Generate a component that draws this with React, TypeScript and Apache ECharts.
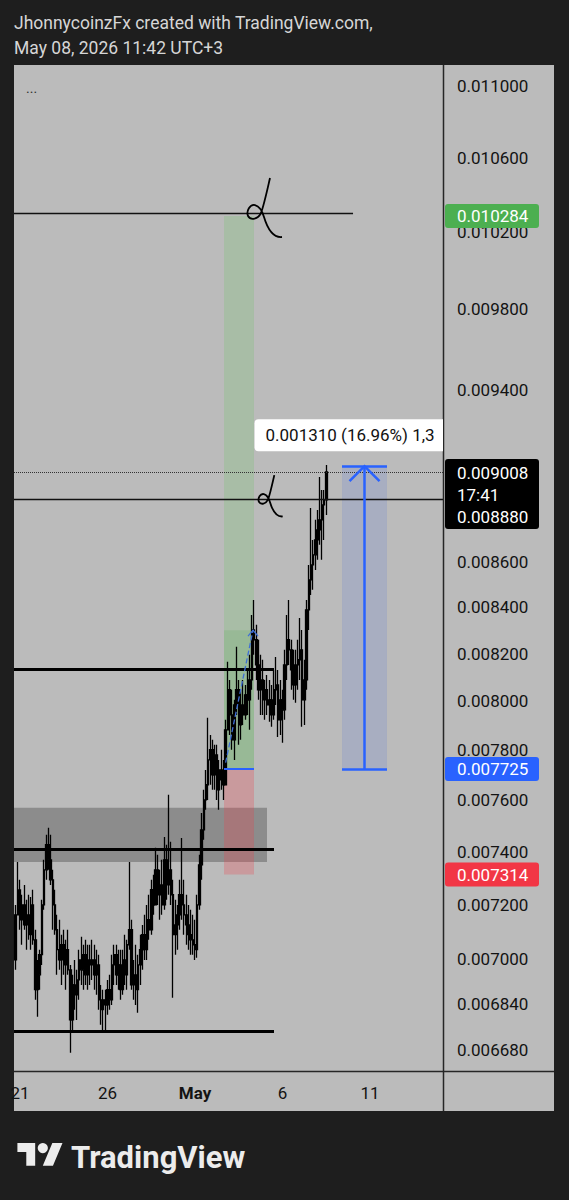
import React, { useEffect, useRef } from "react";
import * as echarts from "echarts";

// ---------- texts ----------
const headerLines = ["JhonnycoinzFx created with TradingView.com,", "May 08, 2026 11:42 UTC+3"];
const brandName = "TradingView";

// ---------- axes ----------
const priceTicks = [0.011, 0.0106, 0.0102, 0.0098, 0.0094, 0.0086, 0.0084, 0.0082, 0.008, 0.0078, 0.0076, 0.0074, 0.0072, 0.007, 0.00684, 0.00668];
const dayTicks = [21, 26, 31, 36, 41];
const dayTickLabels = ["21", "26", "May", "6", "11"];
const boldDayLabels = ["May"];
const axisMinPrice = 0.006607;
const axisMaxPrice = 0.01112;
const axisMinDay = 20.657;
const axisMaxDay = 45.171;

// ---------- candles (3h bars, day numbers counted from Apr 1 => May 1 = 31) ----------
const firstCandleDay = 20.75;
const candleStepDays = 0.125;
const firstOpen = 0.006998;
const closes = [
  0.007163, 0.007256, 0.007145, 0.0072, 0.007126, 0.007163, 0.00709, 0.0072, 0.007071, 0.006891,
  0.006944, 0.007017, 0.0072, 0.007332, 0.007428, 0.00737, 0.007294, 0.0072, 0.007108, 0.007035,
  0.006998, 0.007053, 0.00698, 0.007035, 0.006962, 0.006784, 0.006908, 0.006873, 0.006926, 0.006998,
  0.006962, 0.007017, 0.006944, 0.006998, 0.00698, 0.006998, 0.006944, 0.00698, 0.006855, 0.00682,
  0.006855, 0.006837, 0.006891, 0.006855, 0.00698, 0.007017, 0.006944, 0.00698, 0.006891, 0.006998,
  0.006944, 0.007053, 0.007108, 0.006908, 0.006944, 0.006891, 0.00698, 0.007035, 0.00709, 0.007035,
  0.007145, 0.007108, 0.007257, 0.0072, 0.007332, 0.007238, 0.007275, 0.0072, 0.00737, 0.007275,
  0.007332, 0.007238, 0.00709, 0.007126, 0.007163, 0.007238, 0.0072, 0.007163, 0.007126, 0.00709,
  0.007071, 0.007053, 0.007035, 0.0072, 0.007351, 0.007485, 0.007602, 0.007662, 0.007761, 0.007802,
  0.007701, 0.007781, 0.007642, 0.007721, 0.007681, 0.007662, 0.007883, 0.008048, 0.007944, 0.007842,
  0.007985, 0.008048, 0.007903, 0.007985, 0.007944, 0.008027, 0.008006, 0.008089, 0.008301, 0.008259,
  0.008152, 0.008048, 0.008089, 0.008006, 0.008048, 0.007985, 0.008006, 0.007944, 0.008048, 0.008068,
  0.007924, 0.008006, 0.007965, 0.008152, 0.008259, 0.008216, 0.008131, 0.008068, 0.008152, 0.008174,
  0.008216, 0.008006, 0.008089, 0.008388, 0.008519, 0.008585, 0.00863, 0.008697, 0.008742, 0.008788,
  0.008856, 0.008879, 0.009008,
];
const highs = [
  0.0072, 0.007362, 0.007294, 0.007238, 0.007275, 0.007219, 0.007238, 0.00723, 0.007257, 0.007108,
  0.006998, 0.007035, 0.007219, 0.00737, 0.007466, 0.007493, 0.007466, 0.007332, 0.007257, 0.007163,
  0.007145, 0.00709, 0.007108, 0.007071, 0.007108, 0.00698, 0.006944, 0.006998, 0.006962, 0.007035,
  0.007082, 0.007053, 0.007071, 0.007053, 0.007053, 0.007071, 0.007053, 0.007035, 0.007017, 0.006908,
  0.006891, 0.006891, 0.006926, 0.006944, 0.007017, 0.007053, 0.007053, 0.007035, 0.007035, 0.007035,
  0.00709, 0.007071, 0.007362, 0.007145, 0.006998, 0.007053, 0.007017, 0.00709, 0.007126, 0.007163,
  0.0072, 0.007238, 0.007294, 0.007313, 0.007416, 0.007389, 0.007332, 0.00737, 0.007458, 0.007428,
  0.007622, 0.007439, 0.007294, 0.007219, 0.0072, 0.007294, 0.007454, 0.007294, 0.007238, 0.0072,
  0.007182, 0.007163, 0.007145, 0.007238, 0.007389, 0.007551, 0.007642, 0.007721, 0.007932, 0.007862,
  0.007842, 0.007822, 0.007822, 0.007761, 0.007802, 0.007761, 0.007924, 0.008165, 0.008089, 0.008048,
  0.008006, 0.008229, 0.008089, 0.008048, 0.008089, 0.008068, 0.008131, 0.008195, 0.008366, 0.008431,
  0.008323, 0.008259, 0.008195, 0.008174, 0.008089, 0.00811, 0.008089, 0.008068, 0.008131, 0.008186,
  0.008131, 0.008089, 0.008048, 0.008216, 0.008366, 0.008431, 0.008259, 0.008216, 0.008216, 0.008259,
  0.008353, 0.008301, 0.008174, 0.008431, 0.008585, 0.008842, 0.008697, 0.008788, 0.008833, 0.008985,
  0.008925, 0.008925, 0.009041,
];
const lows = [
  0.006962, 0.007163, 0.007108, 0.007053, 0.007108, 0.007035, 0.007071, 0.007035, 0.007053, 0.006855,
  0.006795, 0.006891, 0.00698, 0.007182, 0.007294, 0.007332, 0.007275, 0.007108, 0.00709, 0.006944,
  0.006962, 0.006908, 0.006944, 0.006891, 0.006944, 0.00667, 0.006749, 0.00682, 0.006784, 0.006855,
  0.006908, 0.006891, 0.006908, 0.006891, 0.006908, 0.006926, 0.006891, 0.006873, 0.00682, 0.006767,
  0.006749, 0.006739, 0.006802, 0.00682, 0.006837, 0.006908, 0.006908, 0.006891, 0.006855, 0.006873,
  0.006908, 0.006891, 0.007035, 0.006891, 0.006855, 0.006837, 0.006809, 0.006908, 0.006962, 0.006998,
  0.006998, 0.007071, 0.00709, 0.007163, 0.007219, 0.0072, 0.007145, 0.007163, 0.007182, 0.007219,
  0.007238, 0.0072, 0.006862, 0.007017, 0.007035, 0.007108, 0.007145, 0.00709, 0.007053, 0.007035,
  0.007017, 0.007017, 0.006998, 0.007006, 0.007182, 0.007294, 0.007447, 0.007563, 0.007602, 0.007662,
  0.007642, 0.007642, 0.007602, 0.007563, 0.007642, 0.007602, 0.007713, 0.007924, 0.007862, 0.007802,
  0.007761, 0.007944, 0.007822, 0.007842, 0.007903, 0.007924, 0.007944, 0.007883, 0.008048, 0.008195,
  0.008089, 0.008006, 0.007944, 0.007944, 0.007924, 0.007944, 0.007916, 0.007895, 0.007924, 0.007985,
  0.007854, 0.007862, 0.00783, 0.007924, 0.008089, 0.008152, 0.008048, 0.008006, 0.007994, 0.008048,
  0.008089, 0.007895, 0.007903, 0.008048, 0.008301, 0.008453, 0.008475, 0.008563, 0.008608, 0.008675,
  0.008608, 0.008697, 0.00881,
];

// ---------- drawings ----------
const lastPrice = 0.009008;
const countdownText = "17:41";
const entryPrice = 0.007725;
const targetPrice = 0.010284;
const stopPrice = 0.007314;
const reachedPrice = 0.0083;
const lineLevel = 0.00888;
const topLineLevel = 0.0103;
const thickLevels = [0.008135, 0.00741, 0.006745];
const zoneTopPrice = 0.007571;
const zoneBottomPrice = 0.007362;
const zoneEndDay = 35.114;
const thickEndDay = 35.514;
const topLineEndDay = 40.03;
const positionStartDay = 32.657;
const positionEndDay = 34.371;
const dashStart = [32.75, 0.00775];
const dashEnd = [34.314, 0.0083];
const rangeFrom = 0.007725;
const rangeTo = 0.009035;
const rangeStartDay = 39.4;
const rangeEndDay = 41.971;
const rangeMidDay = 40.686;
const rangeLabel = "0.001310 (16.96%) 1,3";
const scribbleAnchors = [
  { day: 34.771, price: 0.0103, scale: 1 },
  { day: 35.171, price: 0.00888, scale: 0.7 },
];

// ---------- shapes ----------
const TV_LOGO_D = "M14 22H7V11H0V4h14v18zM28 22h-8l7.5-18h8L28 22z";
const SCRIBBLE_D = "M9,-35 C6,-22 3,-8 0,0 C-3,6 -10,8 -13,3 C-15,-2 -11,-9 -6,-8 C-2,-7 1,-3 3,4 C6,14 11,25 21,24";
echarts.graphic.registerShape("tvlogo", echarts.graphic.extendPath(TV_LOGO_D, {}));
echarts.graphic.registerShape("scribble", echarts.graphic.extendPath(SCRIBBLE_D, {}));

const FONT = 'Roboto, "Noto Sans", sans-serif';
const BLUE = "#2962ff";

export default function App() {
  const ref = useRef<HTMLDivElement>(null);

  useEffect(() => {
    const el = ref.current;
    if (!el) return;
    const chart = echarts.init(el, null, { renderer: "svg" });
    const L = Math.log;

    const candleData = closes.map((c, i) => {
      const o = i === 0 ? firstOpen : closes[i - 1];
      const h = Math.max(highs[i], o, c);
      const l = Math.min(lows[i], o, c);
      return [firstCandleDay + i * candleStepDays, L(o), L(c), L(l), L(h)];
    });

    const seg = (d1: number, p1: number, d2: number, p2: number, lineStyle: any) => [
      { coord: [d1, L(p1)], lineStyle },
      { coord: [d2, L(p2)] },
    ];
    const area = (d1: number, p1: number, d2: number, p2: number, color: string) => [
      { coord: [d1, L(p1)], itemStyle: { color } },
      { coord: [d2, L(p2)] },
    ];

    const option: any = {
      animation: false,
      backgroundColor: "#1e1e1e",
      grid: { left: 14, top: 65, width: 429, height: 1006, containLabel: false, outerBoundsMode: "none" },
      xAxis: {
        type: "value",
        min: axisMinDay,
        max: axisMaxDay,
        axisLine: { show: false },
        axisTick: { show: false },
        splitLine: { show: false },
        axisLabel: {
          customValues: dayTicks,
          margin: 13,
          color: "#131313",
          fontSize: 17,
          fontFamily: FONT,
          formatter: (v: number) => {
            const k = dayTicks.indexOf(v);
            const s = k >= 0 ? dayTickLabels[k] : "";
            return boldDayLabels.includes(s) ? `{b|${s}}` : s;
          },
          rich: { b: { fontWeight: "bold", fontSize: 17, color: "#131313", fontFamily: FONT } },
        },
      },
      yAxis: {
        type: "value",
        position: "right",
        min: L(axisMinPrice),
        max: L(axisMaxPrice),
        axisLine: { show: false },
        axisTick: { show: false },
        splitLine: { show: false },
        axisLabel: {
          customValues: priceTicks.map(L),
          margin: 14,
          color: "#131313",
          fontSize: 17,
          fontFamily: FONT,
          formatter: (v: number) => Math.exp(v).toFixed(6),
        },
      },
      series: [
        {
          type: "candlestick",
          data: candleData,
          encode: { x: 0, y: [1, 2, 3, 4] },
          barWidth: 2,
          silent: true,
          itemStyle: { color: "#000", color0: "#000", borderColor: "#000", borderColor0: "#000", borderWidth: 1.3 },
          markArea: {
            silent: true,
            label: { show: false },
            data: [
              area(axisMinDay, zoneTopPrice, zoneEndDay, zoneBottomPrice, "rgba(0,0,0,0.25)"),
              area(positionStartDay, targetPrice, positionEndDay, entryPrice, "rgba(110,195,105,0.25)"),
              area(positionStartDay, reachedPrice, positionEndDay, entryPrice, "rgba(60,160,60,0.14)"),
              area(positionStartDay, entryPrice, positionEndDay, stopPrice, "rgba(242,54,69,0.25)"),
              area(rangeStartDay, rangeTo, rangeEndDay, rangeFrom, "rgba(60,100,230,0.15)"),
            ],
          },
          markLine: {
            silent: true,
            symbol: ["none", "none"],
            label: { show: false },
            data: [
              seg(axisMinDay, topLineLevel, topLineEndDay, topLineLevel, { color: "#111", width: 1.3, type: "solid" }),
              ...thickLevels.map((p) => seg(axisMinDay, p, thickEndDay, p, { color: "#000", width: 3, type: "solid" })),
              seg(axisMinDay, lineLevel, axisMaxDay, lineLevel, { color: "#111", width: 1.3, type: "solid" }),
              seg(axisMinDay, lastPrice, axisMaxDay, lastPrice, { color: "#333", width: 1, type: "dotted" }),
              seg(positionStartDay, entryPrice, positionEndDay, entryPrice, { color: BLUE, width: 2, type: "solid" }),
              seg(dashStart[0], dashStart[1], dashEnd[0], dashEnd[1], { color: "#3f6fd6", width: 1.3, type: "dashed" }),
              seg(rangeStartDay, rangeTo, rangeEndDay, rangeTo, { color: BLUE, width: 2.5, type: "solid" }),
              seg(rangeStartDay, rangeFrom, rangeEndDay, rangeFrom, { color: BLUE, width: 2.5, type: "solid" }),
              seg(rangeMidDay, rangeFrom, rangeMidDay, rangeTo, { color: BLUE, width: 2.5, type: "solid" }),
            ],
          },
        },
      ],
    };
    chart.setOption(option);

    const P = (d: number, p: number) => chart.convertToPixel({ gridIndex: 0 }, [d, L(p)]) as number[];
    const g: any[] = [];

    // panel background
    g.push({ type: "rect", z: -10, silent: true, shape: { x: 14, y: 65, width: 540, height: 1046 }, style: { fill: "#bbbbbb" } });
    // separators
    g.push({ type: "line", z: 50, silent: true, shape: { x1: 443.5, y1: 65, x2: 443.5, y2: 1111 }, style: { stroke: "#262626", lineWidth: 1.5 } });
    g.push({ type: "line", z: 50, silent: true, shape: { x1: 14, y1: 1071.5, x2: 554, y2: 1071.5 }, style: { stroke: "#262626", lineWidth: 1.5 } });

    // header
    headerLines.forEach((t, i) => {
      g.push({ type: "text", z: 50, x: 14, y: 23 + i * 25, style: { text: t, fill: "#d6d6d6", fontSize: 17.5, fontFamily: FONT, verticalAlign: "middle" } });
    });
    g.push({ type: "text", z: 50, x: 26, y: 88, style: { text: "...", fill: "#333", fontSize: 14, fontFamily: FONT, verticalAlign: "middle" } });

    // brand
    const ls = 1.27;
    const lx = 17.4;
    const ly = 1143 - 4 * ls;
    g.push({ type: "tvlogo", z: 50, x: lx, y: ly, scaleX: ls, scaleY: ls, style: { fill: "#ececec" } });
    g.push({ type: "circle", z: 50, shape: { cx: lx + 20 * ls, cy: ly + 8 * ls, r: 4 * ls }, style: { fill: "#ececec" } });
    g.push({ type: "text", z: 50, x: 71, y: 1157, style: { text: brandName, fill: "#ececec", fontSize: 31, fontWeight: "bold", fontFamily: FONT, verticalAlign: "middle" } });

    // scribbles
    scribbleAnchors.forEach((a) => {
      const [sx, sy] = P(a.day, a.price);
      g.push({ type: "scribble", z: 60, x: sx, y: sy, scaleX: a.scale, scaleY: a.scale, style: { stroke: "#000", fill: "none", lineWidth: 1.8 / a.scale } });
    });

    // range arrow head + label
    const [rx, ry] = P(rangeMidDay, rangeTo);
    g.push({ type: "polyline", z: 60, shape: { points: [[rx - 15, ry + 15], [rx, ry], [rx + 15, ry + 15]] }, style: { stroke: BLUE, lineWidth: 2.5, fill: "none" } });
    const boxLeft = rx - 110;
    g.push({ type: "rect", z: 60, shape: { x: boxLeft, y: ry - 47, width: 443 - boxLeft, height: 32, r: [4, 0, 0, 4] }, style: { fill: "#ffffff" } });
    g.push({ type: "text", z: 61, x: boxLeft + 11, y: ry - 31, style: { text: rangeLabel, fill: "#111", fontSize: 17, fontFamily: FONT, verticalAlign: "middle" } });

    // dashed line arrow head
    const [dx, dy] = P(dashEnd[0], dashEnd[1]);
    g.push({ type: "polyline", z: 60, shape: { points: [[dx - 5, dy + 6], [dx, dy], [dx + 5, dy + 6]] }, style: { stroke: "#3f6fd6", lineWidth: 1.3, fill: "none" } });

    // axis tags
    const tag = (price: number, fill: string) => {
      const y = P(axisMinDay, price)[1];
      g.push({ type: "rect", z: 100, shape: { x: 445, y: y - 12, width: 94, height: 24, r: 3 }, style: { fill } });
      g.push({ type: "text", z: 101, x: 457, y, style: { text: price.toFixed(6), fill: "#fff", fontSize: 17, fontFamily: FONT, verticalAlign: "middle" } });
    };
    tag(targetPrice, "#4caf50");
    tag(entryPrice, BLUE);
    tag(stopPrice, "#f23645");

    const yLast = P(axisMinDay, lastPrice)[1];
    g.push({ type: "rect", z: 100, shape: { x: 445, y: yLast - 13, width: 94, height: 70, r: 3 }, style: { fill: "#000" } });
    [lastPrice.toFixed(6), countdownText, lineLevel.toFixed(6)].forEach((t, i) => {
      g.push({ type: "text", z: 101, x: 457, y: yLast + 1 + i * 22, style: { text: t, fill: "#fff", fontSize: 17, fontFamily: FONT, verticalAlign: "middle" } });
    });

    chart.setOption({ graphic: g });

    return () => chart.dispose();
  }, []);

  return <div ref={ref} style={{ position: "absolute", left: 0, top: 0, width: 569, height: 1200 }} />;
}
